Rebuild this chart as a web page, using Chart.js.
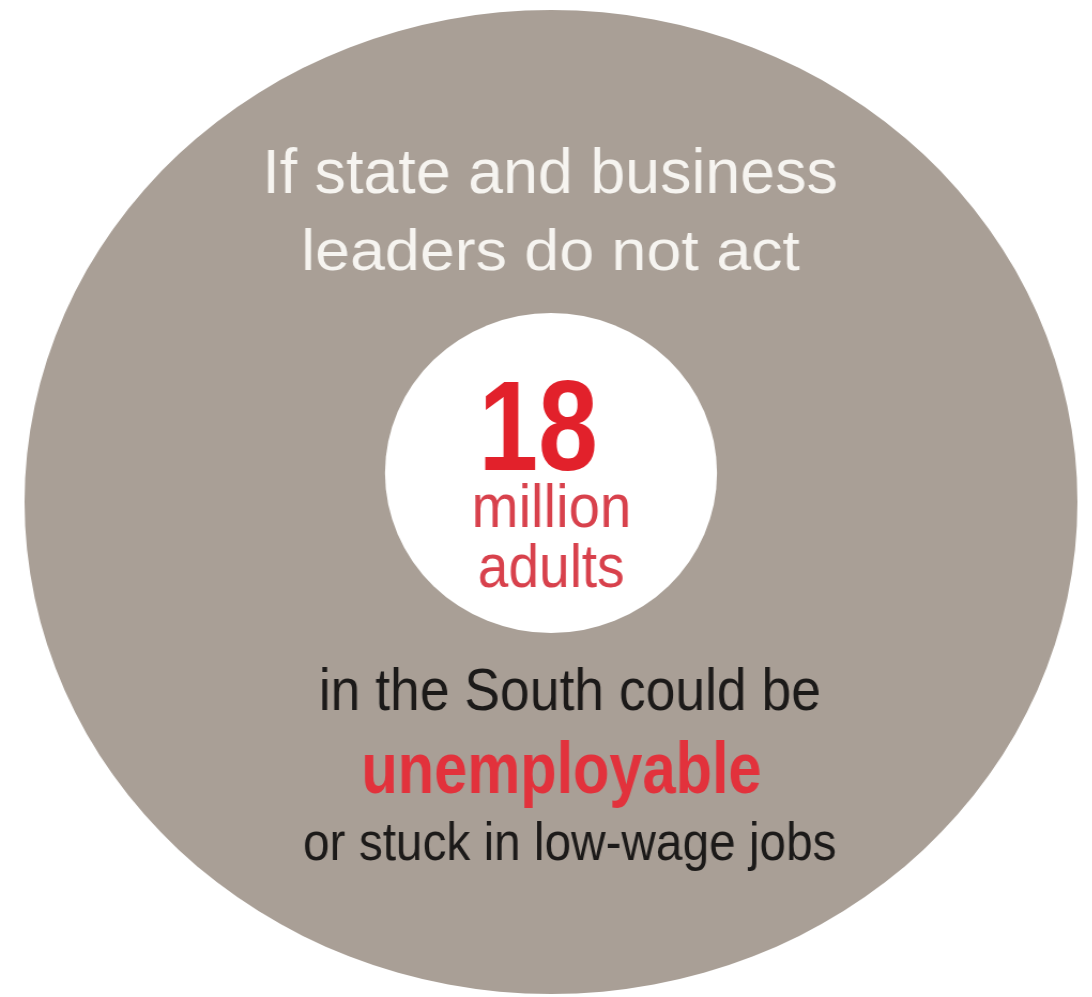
<!DOCTYPE html>
<html>
<head>
<meta charset="utf-8">
<title>18 million adults</title>
<script src="https://cdn.jsdelivr.net/npm/chart.js@4.4.1/dist/chart.umd.min.js"></script>
<style>
  html, body { margin: 0; padding: 0; background: #ffffff; overflow: hidden; }
  body { width: 1092px; height: 997px; position: relative; }
  #wrap {
    position: absolute;
    left: 59px;
    top: 10px;
    width: 984px;
    height: 984px;
    transform: scaleX(1.07);
    transform-origin: 50% 50%;
  }
</style>
</head>
<body>
<div id="wrap"><canvas id="chart"></canvas></div>
<script>
'use strict';

// ************************** DATA ****************************************** //
let categories = ['Adults in the South who could be unemployable'];
let millions = [18];

let headline = ['If state and business', 'leaders do not act'];
let bigNumber = ['18'];
let unitLines = ['million', 'adults'];
let footLines = ['in the South could be', 'unemployable', 'or stuck in low-wage jobs'];

// ************************** LAYOUT **************************************** //
// page coordinates of each text line: ink left/right, ink top, baseline
const STRETCH = 1.07;
const CANVAS_SIZE = 984;
const WRAP_LEFT = 59;
const WRAP_TOP = 10;

let textBoxes = [
  { text: headline[0], color: '#f6f4f0', bold: false, left: 268, right: 836, top: 147, base: 193 },
  { text: headline[1], color: '#f6f4f0', bold: false, left: 305, right: 800, top: 228, base: 270 },
  { text: bigNumber[0], color: '#e2212b', bold: true, left: 485, right: 595, top: 381, base: 470 },
  { text: unitLines[0], color: '#d8414c', bold: false, left: 475, right: 628, top: 482, base: 527 },
  { text: unitLines[1], color: '#d8414c', bold: false, left: 480, right: 623, top: 542, base: 587 },
  { text: footLines[0], color: '#1c1a19', bold: false, left: 322, right: 819, top: 667, base: 710 },
  { text: footLines[1], color: '#e2323c', bold: true, left: 365, right: 760, top: 740, base: 793 },
  { text: footLines[2], color: '#1c1a19', bold: false, left: 305, right: 835, top: 821, base: 860 }
];

let innerCircle = { cx: 551, cy: 473, rx: 166, ry: 160 };

// ************************** HELPERS *************************************** //
function fontFor(bold) {
  return (bold ? 'bold ' : '') + '100px "Liberation Sans", Arial, sans-serif';
}

// draw a text line so its ink fills the given box
function drawFitted(ctx, box) {
  ctx.font = fontFor(box.bold);
  let m = ctx.measureText(box.text);
  let inkW = m.actualBoundingBoxLeft + m.actualBoundingBoxRight;
  let inkH = m.actualBoundingBoxAscent;
  let sx = (box.right - box.left) / inkW;
  let sy = (box.base - box.top) / inkH;
  ctx.save();
  ctx.translate(box.left + m.actualBoundingBoxLeft * sx, box.base);
  ctx.scale(sx, sy);
  ctx.fillStyle = box.color;
  ctx.textAlign = 'left';
  ctx.textBaseline = 'alphabetic';
  ctx.fillText(box.text, 0, 0);
  ctx.restore();
}

let overlayPlugin = {
  id: 'overlay',
  afterDatasetsDraw(chart) {
    let ctx = chart.ctx;
    ctx.save();
    // map page coordinates onto the stretched canvas
    let cx0 = CANVAS_SIZE / 2;
    let px0 = WRAP_LEFT + CANVAS_SIZE / 2;
    ctx.translate(cx0 - px0 / STRETCH, -WRAP_TOP);
    ctx.scale(1 / STRETCH, 1);

    ctx.beginPath();
    ctx.ellipse(innerCircle.cx, innerCircle.cy, innerCircle.rx, innerCircle.ry, 0, 0, Math.PI * 2);
    ctx.fillStyle = '#ffffff';
    ctx.fill();

    for (let i = 0; i < textBoxes.length; i++) {
      drawFitted(ctx, textBoxes[i]);
    }
    ctx.restore();
  }
};

// ************************** CHART ***************************************** //
let chart = document.getElementById('chart');

new Chart(chart, {
  type: 'pie',
  data: {
    labels: categories,
    datasets: [{
      data: millions,
      backgroundColor: ['#a99f96'],
      borderWidth: 0
    }]
  },
  options: {
    responsive: true,
    maintainAspectRatio: false,
    animation: false,
    events: [],
    layout: { padding: 0 },
    plugins: {
      legend: { display: false },
      tooltip: { enabled: false }
    }
  },
  plugins: [overlayPlugin]
});
</script>
</body>
</html>
